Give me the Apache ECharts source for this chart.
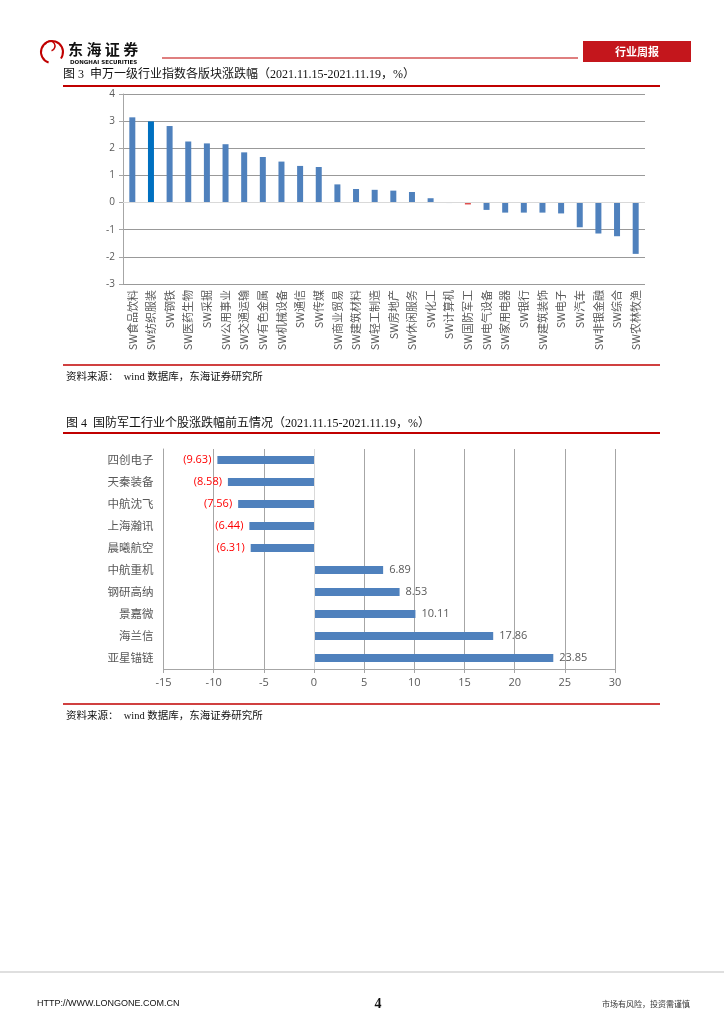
<!DOCTYPE html>
<html><head><meta charset="utf-8">
<script src="https://cdn.jsdelivr.net/npm/echarts@6/dist/echarts.min.js"></script>
<style>html,body{margin:0;padding:0;background:#fff}#c{width:724px;height:1024px}</style>
</head><body><div id="c"></div>
<script>
const sectors = ['SW食品饮料','SW纺织服装','SW钢铁','SW医药生物','SW采掘','SW公用事业','SW交通运输','SW有色金属','SW机械设备','SW通信','SW传媒','SW商业贸易','SW建筑材料','SW轻工制造','SW房地产','SW休闲服务','SW化工','SW计算机','SW国防军工','SW电气设备','SW家用电器','SW银行','SW建筑装饰','SW电子','SW汽车','SW非银金融','SW综合','SW农林牧渔'];
const sectorChange = [3.14,2.99,2.82,2.25,2.18,2.15,1.85,1.68,1.51,1.35,1.31,0.67,0.50,0.47,0.44,0.39,0.16,-0.02,-0.07,-0.27,-0.37,-0.37,-0.37,-0.40,-0.91,-1.14,-1.24,-1.89];
const yTicks1 = {min:-3, max:4, interval:1};
const stocks = ['四创电子','天秦装备','中航沈飞','上海瀚讯','晨曦航空','中航重机','钢研高纳','景嘉微','海兰信','亚星锚链'];
const stockChange = [-9.63,-8.58,-7.56,-6.44,-6.31,6.89,8.53,10.11,17.86,23.85];
const xTicks2 = {min:-15, max:30, interval:5};

const CJK = '"Noto Sans CJK SC", sans-serif';
const SERIF = '"Liberation Serif", "Noto Sans CJK SC", serif';
const grey = '#595959';

const chart = echarts.init(document.getElementById('c'), null, {renderer:'canvas'});

const bar1Data = sectorChange.map((v,i)=>{
  let color = '#4F81BD';
  if (sectors[i]==='SW纺织服装') color = '#0070C0';
  if (sectors[i]==='SW国防军工') color = '#E0504F';
  if (sectors[i]==='SW计算机') color = '#C6D6EA';
  return {value:v, itemStyle:{color}};
});

const bar2Data = stockChange.map(v=>({
  value:v,
  label: v<0 ? {position:'left', color:'#FF0000', formatter: '(' + Math.abs(v).toFixed(2) + ')'}
             : {position:'right', color:grey, formatter: v.toFixed(2)}
}));

function line(x1,y1,x2,y2,color,w){return {type:'line',shape:{x1,y1,x2,y2},style:{stroke:color,lineWidth:w},silent:true};}
function txt(x,y,t,opt){return {type:'text',x,y,style:Object.assign({text:t,fill:'#000',font:'12px '+CJK,textVerticalAlign:'middle'},opt||{}),silent:true};}

const graphics = [
  {type:'arc',shape:{cx:52,cy:52,r:11,startAngle:Math.PI*0.6,endAngle:Math.PI*2.2},style:{stroke:'#C00000',lineWidth:2,fill:null}},
  {type:'arc',shape:{cx:50,cy:46,r:5,startAngle:Math.PI*1.1,endAngle:Math.PI*2.4},style:{stroke:'#C00000',lineWidth:1.5,fill:null}},
  txt(68,49,'东 海 证 券',{font:'bold 15px '+CJK,fill:'#111'}),
  txt(70,63,'DONGHAI SECURITIES',{font:'bold 5.5px "DejaVu Sans"',fill:'#111'}),
  line(162,58,578,58,'#C00000',1.2),
  {type:'rect',shape:{x:583,y:41,width:108,height:21},style:{fill:'#C4161C'},silent:true},
  txt(637,51.5,'行业周报',{font:'bold 11px '+CJK,fill:'#fff',textAlign:'center'}),
  txt(63,75,'图 3  申万一级行业指数各版块涨跌幅（2021.11.15-2021.11.19，%）',{font:'12px '+SERIF,fill:'#111'}),
  line(63,86,660,86,'#C00000',2),
  line(63,365,660,365,'#C00000',1.5),
  txt(66,377,'资料来源：  wind 数据库，东海证券研究所',{font:'10.5px '+SERIF,fill:'#111'}),
  txt(66,424,'图 4  国防军工行业个股涨跌幅前五情况（2021.11.15-2021.11.19，%）',{font:'12px '+SERIF,fill:'#111'}),
  line(63,433,660,433,'#C00000',2),
  line(63,704,660,704,'#C00000',1.5),
  txt(66,716,'资料来源：  wind 数据库，东海证券研究所',{font:'10.5px '+SERIF,fill:'#111'}),
  line(0,972,724,972,'#BFBFBF',1),
  txt(37,1004,'HTTP://WWW.LONGONE.COM.CN',{font:'9px "Liberation Sans"',fill:'#111'}),
  txt(378,1004,'4',{font:'bold 14px "Liberation Serif"',fill:'#111',textAlign:'center'}),
  txt(690,1004,'市场有风险，投资需谨慎',{font:'8px '+CJK,fill:'#333',textAlign:'right'})
];

chart.setOption({
  animation:false,
  backgroundColor:'#fff',
  textStyle:{fontFamily:CJK},
  graphic: graphics,
  grid:[
    {left:123, top:94, width:522, height:190, containLabel:false},
    {left:163.5, top:449, width:451.5, height:220, containLabel:false}
  ],
  xAxis:[
    {gridIndex:0, type:'category', data:sectors,
     axisLine:{show:false, onZero:false}, axisTick:{show:false},
     axisLabel:{interval:0, rotate:90, color:grey, fontSize:11, margin:6, fontFamily:CJK}},
    {gridIndex:1, type:'value', min:xTicks2.min, max:xTicks2.max, interval:xTicks2.interval,
     axisLine:{show:true, lineStyle:{color:'#A6A6A6'}}, axisTick:{show:true, length:4, lineStyle:{color:'#A6A6A6'}},
     axisLabel:{color:grey, fontSize:11, margin:8, fontFamily:'"Open Sans", sans-serif'},
     splitLine:{show:true, lineStyle:{color:'#A6A6A6'}}}
  ],
  yAxis:[
    {gridIndex:0, type:'value', min:yTicks1.min, max:yTicks1.max, interval:yTicks1.interval,
     axisLine:{show:true, lineStyle:{color:'#A6A6A6'}}, axisTick:{show:true, length:4, lineStyle:{color:'#A6A6A6'}},
     axisLabel:{color:grey, fontSize:10, margin:8, fontFamily:'"Open Sans", sans-serif'},
     splitLine:{show:true, lineStyle:{color:'#999999'}}},
    {gridIndex:1, type:'category', data:stocks, inverse:true,
     axisLine:{show:true, onZero:false, lineStyle:{color:'#A6A6A6'}}, axisTick:{show:false},
     axisLabel:{color:grey, fontSize:11.5, margin:10, fontFamily:CJK}}
  ],
  series:[
    {type:'bar', xAxisIndex:0, yAxisIndex:0, data:bar1Data, barWidth:6,
     markLine:{silent:true, symbol:'none', label:{show:false}, lineStyle:{color:'#D9D9D9', type:'solid', width:1}, data:[{yAxis:0}]}, z:3},
    {type:'bar', xAxisIndex:1, yAxisIndex:1, data:bar2Data, barWidth:8,
     itemStyle:{color:'#4F81BD'},
     label:{show:true, fontSize:11, distance:6, fontFamily:'"Open Sans", sans-serif'},
     markLine:{silent:true, symbol:'none', label:{show:false}, lineStyle:{color:'#D9D9D9', type:'solid', width:1}, data:[{xAxis:0}]}, z:3}
  ]
});
</script></body></html>
